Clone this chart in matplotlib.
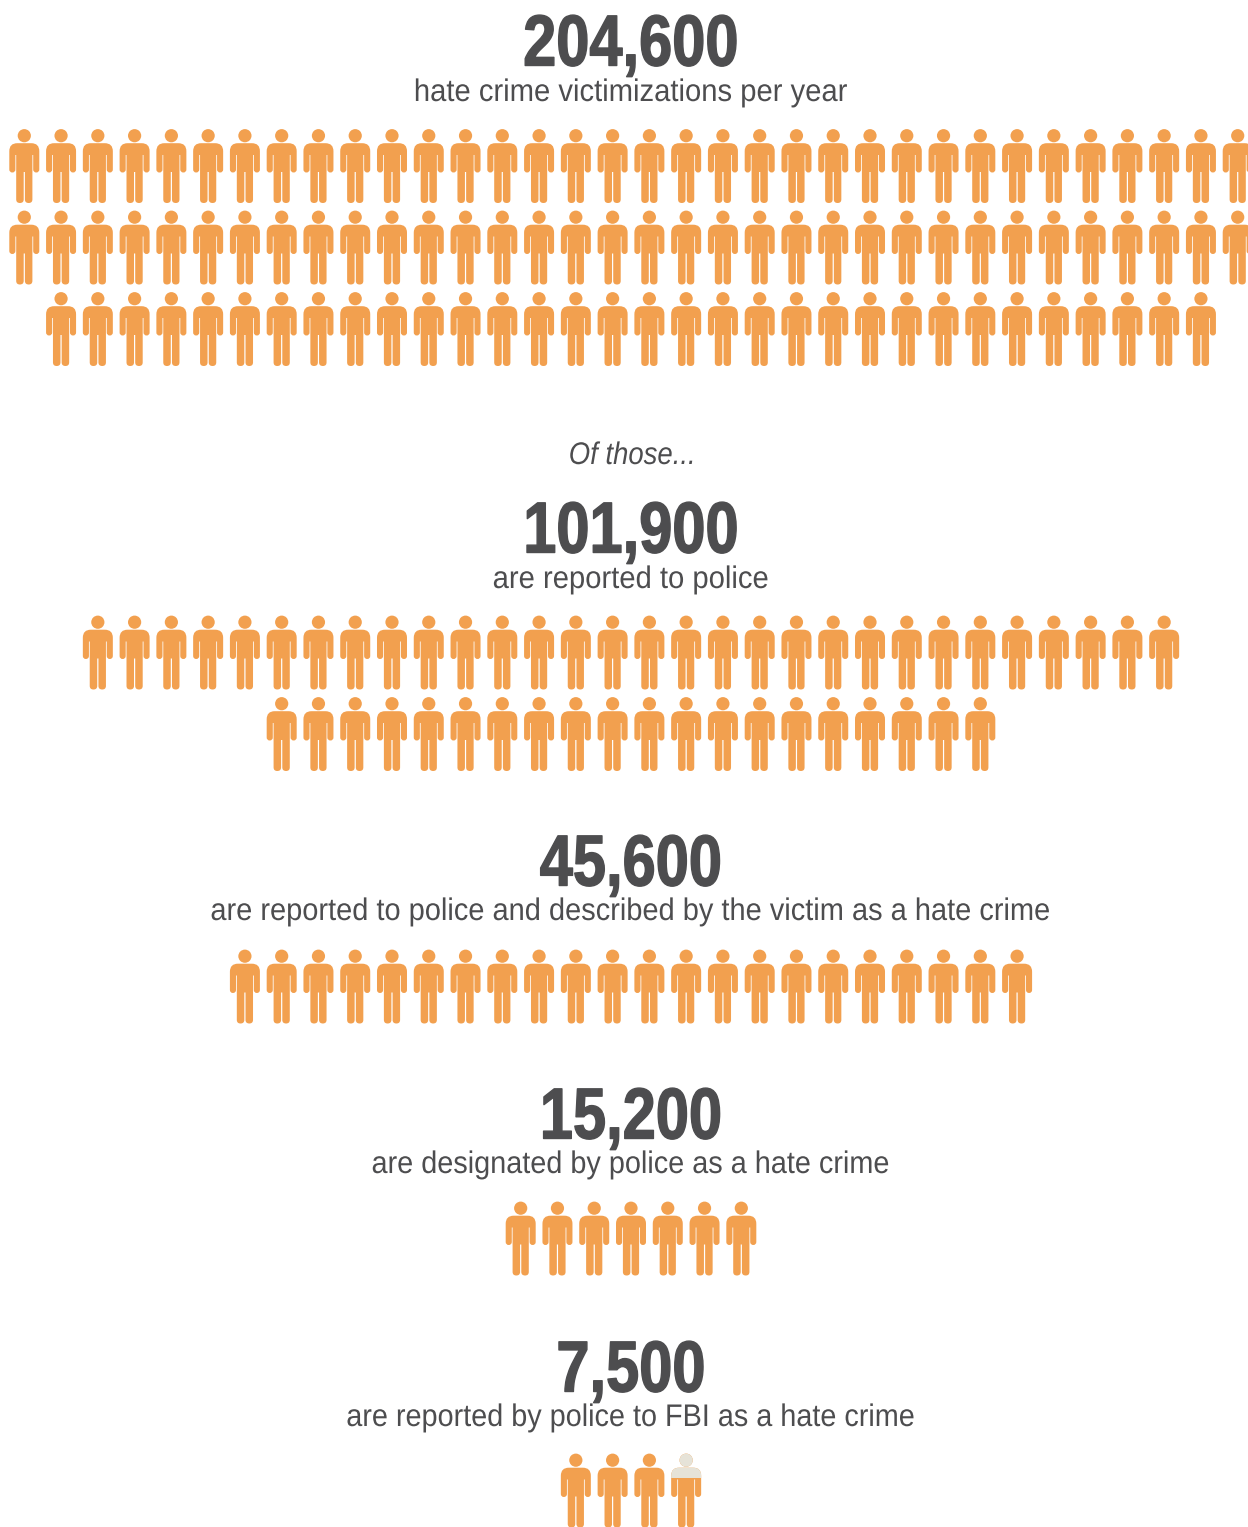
import numpy as np
import matplotlib
matplotlib.use('Agg')
import matplotlib.pyplot as plt
from matplotlib.path import Path
from matplotlib.patches import PathPatch, Rectangle
from matplotlib.patheffects import AbstractPathEffect
from matplotlib.transforms import Affine2D

labels = ['204,600', '101,900', '45,600', '15,200', '7,500']
captions = [
    'hate crime victimizations per year',
    'are reported to police',
    'are reported to police and described by the victim as a hate crime',
    'are designated by police as a hate crime',
    'are reported by police to FBI as a hate crime',
]
row_sizes = [[34, 34, 32], [30, 20], [22], [7], [4]]
# filled share of the last icon in each group
last_share = [1, 1, 1, 1, 0.667]

# layout in pixels
row_tops = [[129, 210.5, 292], [615.5, 697], [949.5], [1201.5], [1453.5]]
num_base = [65.5, 552.5, 885.5, 1138.5, 1391.5]
cap_base = [101, 588, 920, 1173, 1426]
cap_squeeze = [0.935, 0.935, 0.928, 0.923, 0.922]
PITCH = 36.77
CX = 631
ICON_H = 74

ORANGE = '#F2A04F'
BEIGE = '#E6E3D8'
DARK = '#4D4D4F'

plt.rcParams['font.family'] = ['Liberation Sans', 'DejaVu Sans']


class Squeeze(AbstractPathEffect):
    # no condensed font installed, so narrow the glyphs around the text centre
    def __init__(self, sx, cx_px, bold=0):
        super().__init__()
        self.sx = sx
        self.cx_px = cx_px
        self.bold = bold

    def draw_path(self, renderer, gc, tpath, affine, rgbFace=None):
        squeeze = Affine2D().translate(-self.cx_px, 0).scale(self.sx, 1).translate(self.cx_px, 0)
        gc0 = renderer.new_gc()
        gc0.copy_properties(gc)
        if self.bold:
            gc0.set_linewidth(self.bold)
            gc0.set_foreground(rgbFace)
        else:
            gc0.set_linewidth(0)
        renderer.draw_path(gc0, tpath, affine + squeeze, rgbFace)
        gc0.restore()


def person_path():
    # right half of the body from the shoulder down, then mirrored
    p0 = (7, 14.2)
    right = [
        (Path.CURVE3, (15, 14.2)), (Path.CURVE3, (15, 22.2)),
        (Path.LINETO, (15, 40.5)),
        (Path.CURVE3, (15, 43.5)), (Path.CURVE3, (12, 43.5)),
        (Path.CURVE3, (8.9, 43.5)), (Path.CURVE3, (8.9, 40.5)),
        (Path.LINETO, (8.9, 26)),
        (Path.LINETO, (8.1, 26)),
        (Path.LINETO, (8.1, 70.4)),
        (Path.CURVE3, (8.1, 74)), (Path.CURVE3, (4.4, 74)),
        (Path.CURVE3, (0.6, 74)), (Path.CURVE3, (0.6, 70.4)),
        (Path.LINETO, (0.6, 43)),
    ]
    pts = [p0] + [v for _, v in right]
    cds = [c for c, _ in right]

    verts = [(-p0[0], p0[1])] + pts
    codes = [Path.MOVETO, Path.LINETO] + cds
    # walking back, each point takes the code of the segment it came from
    verts += [(-x, y) for x, y in pts[::-1]]
    codes += [Path.LINETO] + cds[::-1]
    verts += [(-p0[0], p0[1])]
    codes += [Path.CLOSEPOLY]

    head = Path.circle((0, 6.7), 6.6)
    body = Path(np.array(verts, dtype=float), codes)
    return Path.make_compound_path(head, body)


PERSON = person_path()

fig = plt.figure(figsize=(12.48, 15.27), dpi=100)
ax = fig.add_axes([0, 0, 1, 1])
ax.set_xlim(0, 1248)
ax.set_ylim(1527, 0)
ax.axis('off')


def draw_person(cx, top, share=1.0):
    tr = Affine2D().translate(cx, top) + ax.transData
    ax.add_patch(PathPatch(PERSON, facecolor=ORANGE, edgecolor='none', transform=tr))
    if share < 1:
        # unfilled part sits on top of the icon
        over = PathPatch(PERSON, facecolor=BEIGE, edgecolor='none', transform=tr)
        ax.add_patch(over)
        over.set_clip_path(Rectangle((cx - 20, top - 2), 40, (1 - share) * ICON_H + 2, transform=ax.transData))


for i, label in enumerate(labels):
    t = ax.text(CX, num_base[i], label, ha='center', va='baseline', fontsize=52,
                fontweight='bold', color=DARK)
    t.set_path_effects([Squeeze(0.825, CX, bold=1.0)])
    c = ax.text(CX, cap_base[i], captions[i], ha='center', va='baseline', fontsize=22.5, color=DARK)
    c.set_path_effects([Squeeze(cap_squeeze[i], CX)])

    sizes = row_sizes[i]
    for r, (n, top) in enumerate(zip(sizes, row_tops[i])):
        xs = CX + (np.arange(n) - (n - 1) / 2) * PITCH
        for k, x in enumerate(xs):
            is_last = r == len(sizes) - 1 and k == n - 1
            draw_person(x, top, last_share[i] if is_last else 1.0)

t = ax.text(CX + 1, 464, 'Of those...', ha='center', va='baseline', fontsize=22.5, style='italic', color=DARK)
t.set_path_effects([Squeeze(0.88, CX + 1)])

fig.savefig('out.png', dpi=100)
